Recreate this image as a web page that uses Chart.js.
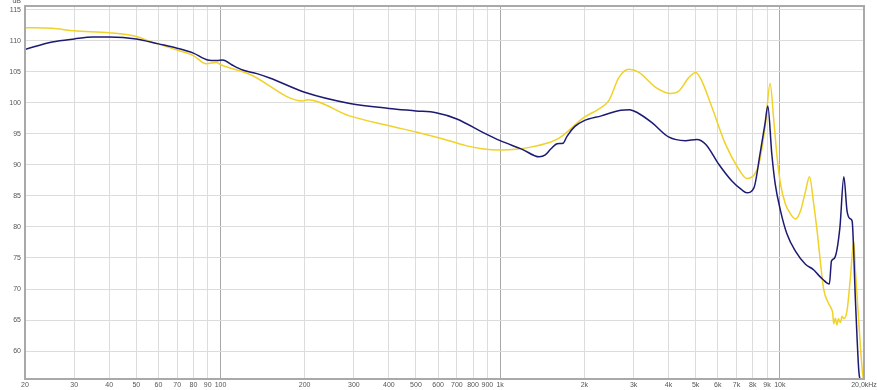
<!DOCTYPE html>
<html>
<head>
<meta charset="utf-8">
<script src="https://cdn.jsdelivr.net/npm/chart.js@4.4.1/dist/chart.umd.min.js"></script>
<style>
  html, body { margin: 0; padding: 0; background: #fff; }
  #wrap { width: 877px; height: 390px; }
</style>
</head>
<body>
<div id="wrap"><canvas id="fr"></canvas></div>
<script>
// frequency response
const navyFreq = [20, 25, 30, 35, 40, 50, 60, 70, 80, 90, 97, 102, 110, 120, 135, 150, 200, 290, 400, 500, 590, 700, 870, 1000, 1200, 1380, 1450, 1520, 1600, 1680, 1734, 1850, 1990, 2300, 2700, 2900, 3100, 3490, 4000, 4600, 5050, 5440, 6050, 6740, 7300, 7620, 8080, 8500, 8850, 9060, 9360, 9630, 10060, 10600, 11370, 12350, 13200, 13780, 14300, 14710, 15040, 15300, 15700, 16400, 16940, 17390, 17880, 18130, 18640, 19150, 19400];
const navyDb = [108.6, 109.8, 110.3, 110.6, 110.6, 110.3, 109.5, 108.8, 108.0, 106.9, 106.8, 106.9, 106.1, 105.3, 104.7, 104.0, 101.7, 99.9, 99.1, 98.7, 98.4, 97.4, 95.2, 93.9, 92.5, 91.3, 91.6, 92.6, 93.4, 93.5, 94.6, 96.2, 97.1, 97.9, 98.8, 98.9, 98.4, 96.8, 94.5, 93.9, 94.1, 93.3, 90.1, 87.4, 86.0, 85.5, 86.3, 91.8, 96.6, 99.5, 91.8, 86.9, 82.6, 78.9, 76.1, 74.0, 73.1, 72.2, 71.5, 71.0, 70.8, 74.5, 75.0, 79.9, 88.1, 82.6, 81.3, 81.0, 68.1, 57.0, 55.0];

const yellowFreq = [20, 25, 30, 40, 50, 56, 70, 80, 89, 96.5, 100.6, 127, 197, 205, 289, 401, 500, 657, 753, 860, 997, 1138, 1300, 1497, 1624, 1989, 2250, 2443, 2660, 2888, 3136, 3598, 4069, 4357, 4732, 5012, 5264, 5728, 6398, 7136, 7623, 8100, 8416, 8890, 9230, 9520, 9780, 10060, 10470, 10920, 11380, 11860, 12360, 12770, 13220, 13590, 14360, 14900, 15300, 15450, 15590, 15800, 16000, 16200, 16470, 16700, 16940, 17390, 17880, 18380, 18640, 19150, 19680, 19950];
const yellowDb = [112.1, 112.0, 111.6, 111.3, 110.7, 109.9, 108.5, 107.6, 106.3, 106.5, 106.1, 104.6, 100.3, 100.5, 97.9, 96.3, 95.3, 93.9, 93.1, 92.6, 92.4, 92.5, 92.9, 93.6, 94.3, 97.6, 99.0, 100.3, 104.1, 105.4, 104.9, 102.5, 101.5, 101.9, 104.1, 104.9, 103.5, 99.2, 93.3, 89.3, 87.8, 88.4, 90.1, 96.6, 103.1, 97.1, 91.2, 86.9, 83.7, 82.1, 81.3, 82.6, 85.8, 88.1, 83.7, 79.4, 69.9, 67.8, 66.8, 66.2, 64.4, 65.3, 64.2, 65.2, 64.6, 65.6, 65.2, 66.5, 71.8, 77.7, 72.9, 64.8, 57.3, 55.0];

const yTicks = [60, 65, 70, 75, 80, 85, 90, 95, 100, 105, 110, 115];
const xTicks = [20, 30, 40, 50, 60, 70, 80, 90, 100, 200, 300, 400, 500, 600, 700, 800, 900, 1000, 2000, 3000, 4000, 5000, 6000, 7000, 8000, 9000, 10000, 20000];
const xLabels = ['20', '30', '40', '50', '60', '70', '80', '90', '100', '200', '300', '400', '500', '600', '700', '800', '900', '1k', '2k', '3k', '4k', '5k', '6k', '7k', '8k', '9k', '10k', '20,0kHz'];

function pts(fr, db) {
    return fr.map((f, i) => ({ x: f, y: db[i] }));
}

// frame around the plot and the dB unit label
const framePlugin = {
    id: 'frame',
    afterDraw(chart) {
        const a = chart.chartArea;
        const ctx = chart.ctx;
        ctx.save();
        ctx.strokeStyle = '#a9a9a9';
        ctx.lineWidth = 2;
        ctx.strokeRect(a.left, a.top, a.right - a.left, a.bottom - a.top);
        ctx.fillStyle = '#555';
        ctx.font = '7px "Liberation Sans"';
        ctx.textAlign = 'right';
        ctx.textBaseline = 'middle';
        ctx.fillText('dB', 21, 1);
        ctx.restore();
    }
};

new Chart(document.getElementById('fr'), {
    type: 'line',
    data: {
        datasets: [
            {
                label: 'navy',
                data: pts(navyFreq, navyDb),
                borderColor: '#1c1a72',
                borderWidth: 1.5,
                pointRadius: 0,
                cubicInterpolationMode: 'monotone',
                order: 1
            },
            {
                label: 'yellow',
                data: pts(yellowFreq, yellowDb),
                borderColor: '#f0d228',
                borderWidth: 1.5,
                pointRadius: 0,
                cubicInterpolationMode: 'monotone',
                order: 2
            }
        ]
    },
    options: {
        responsive: true,
        maintainAspectRatio: false,
        animation: false,
        layout: { padding: { top: 6, right: 13, left: 0, bottom: 0 } },
        plugins: {
            legend: { display: false },
            tooltip: { enabled: false }
        },
        scales: {
            x: {
                type: 'logarithmic',
                min: 20,
                max: 20000,
                afterBuildTicks: (scale) => { scale.ticks = xTicks.map(v => ({ value: v })); },
                afterFit: (scale) => {
                    scale.height = 11;
                    scale.paddingLeft = 0;
                    scale.paddingRight = 0;
                },
                grid: {
                    drawTicks: false,
                    color: (c) => {
                        const v = c.tick && c.tick.value;
                        return (v === 100 || v === 1000 || v === 10000) ? '#a8a8a8' : '#dcdcdc';
                    },
                    lineWidth: 1
                },
                border: { display: false },
                ticks: {
                    autoSkip: false,
                    maxRotation: 0,
                    padding: 2,
                    color: '#555',
                    font: { family: 'Liberation Sans', size: 7 },
                    callback: (v, i) => xLabels[i]
                }
            },
            y: {
                min: 55.5,
                max: 115.6,
                afterBuildTicks: (scale) => { scale.ticks = yTicks.map(v => ({ value: v })); },
                afterFit: (scale) => {
                    scale.width = 25;
                    scale.paddingTop = 0;
                    scale.paddingBottom = 0;
                },
                grid: { drawTicks: false, color: '#dcdcdc', lineWidth: 1 },
                border: { display: false },
                ticks: {
                    padding: 4,
                    color: '#555',
                    font: { family: 'Liberation Sans', size: 7 }
                }
            }
        }
    },
    plugins: [framePlugin]
});
</script>
</body>
</html>
